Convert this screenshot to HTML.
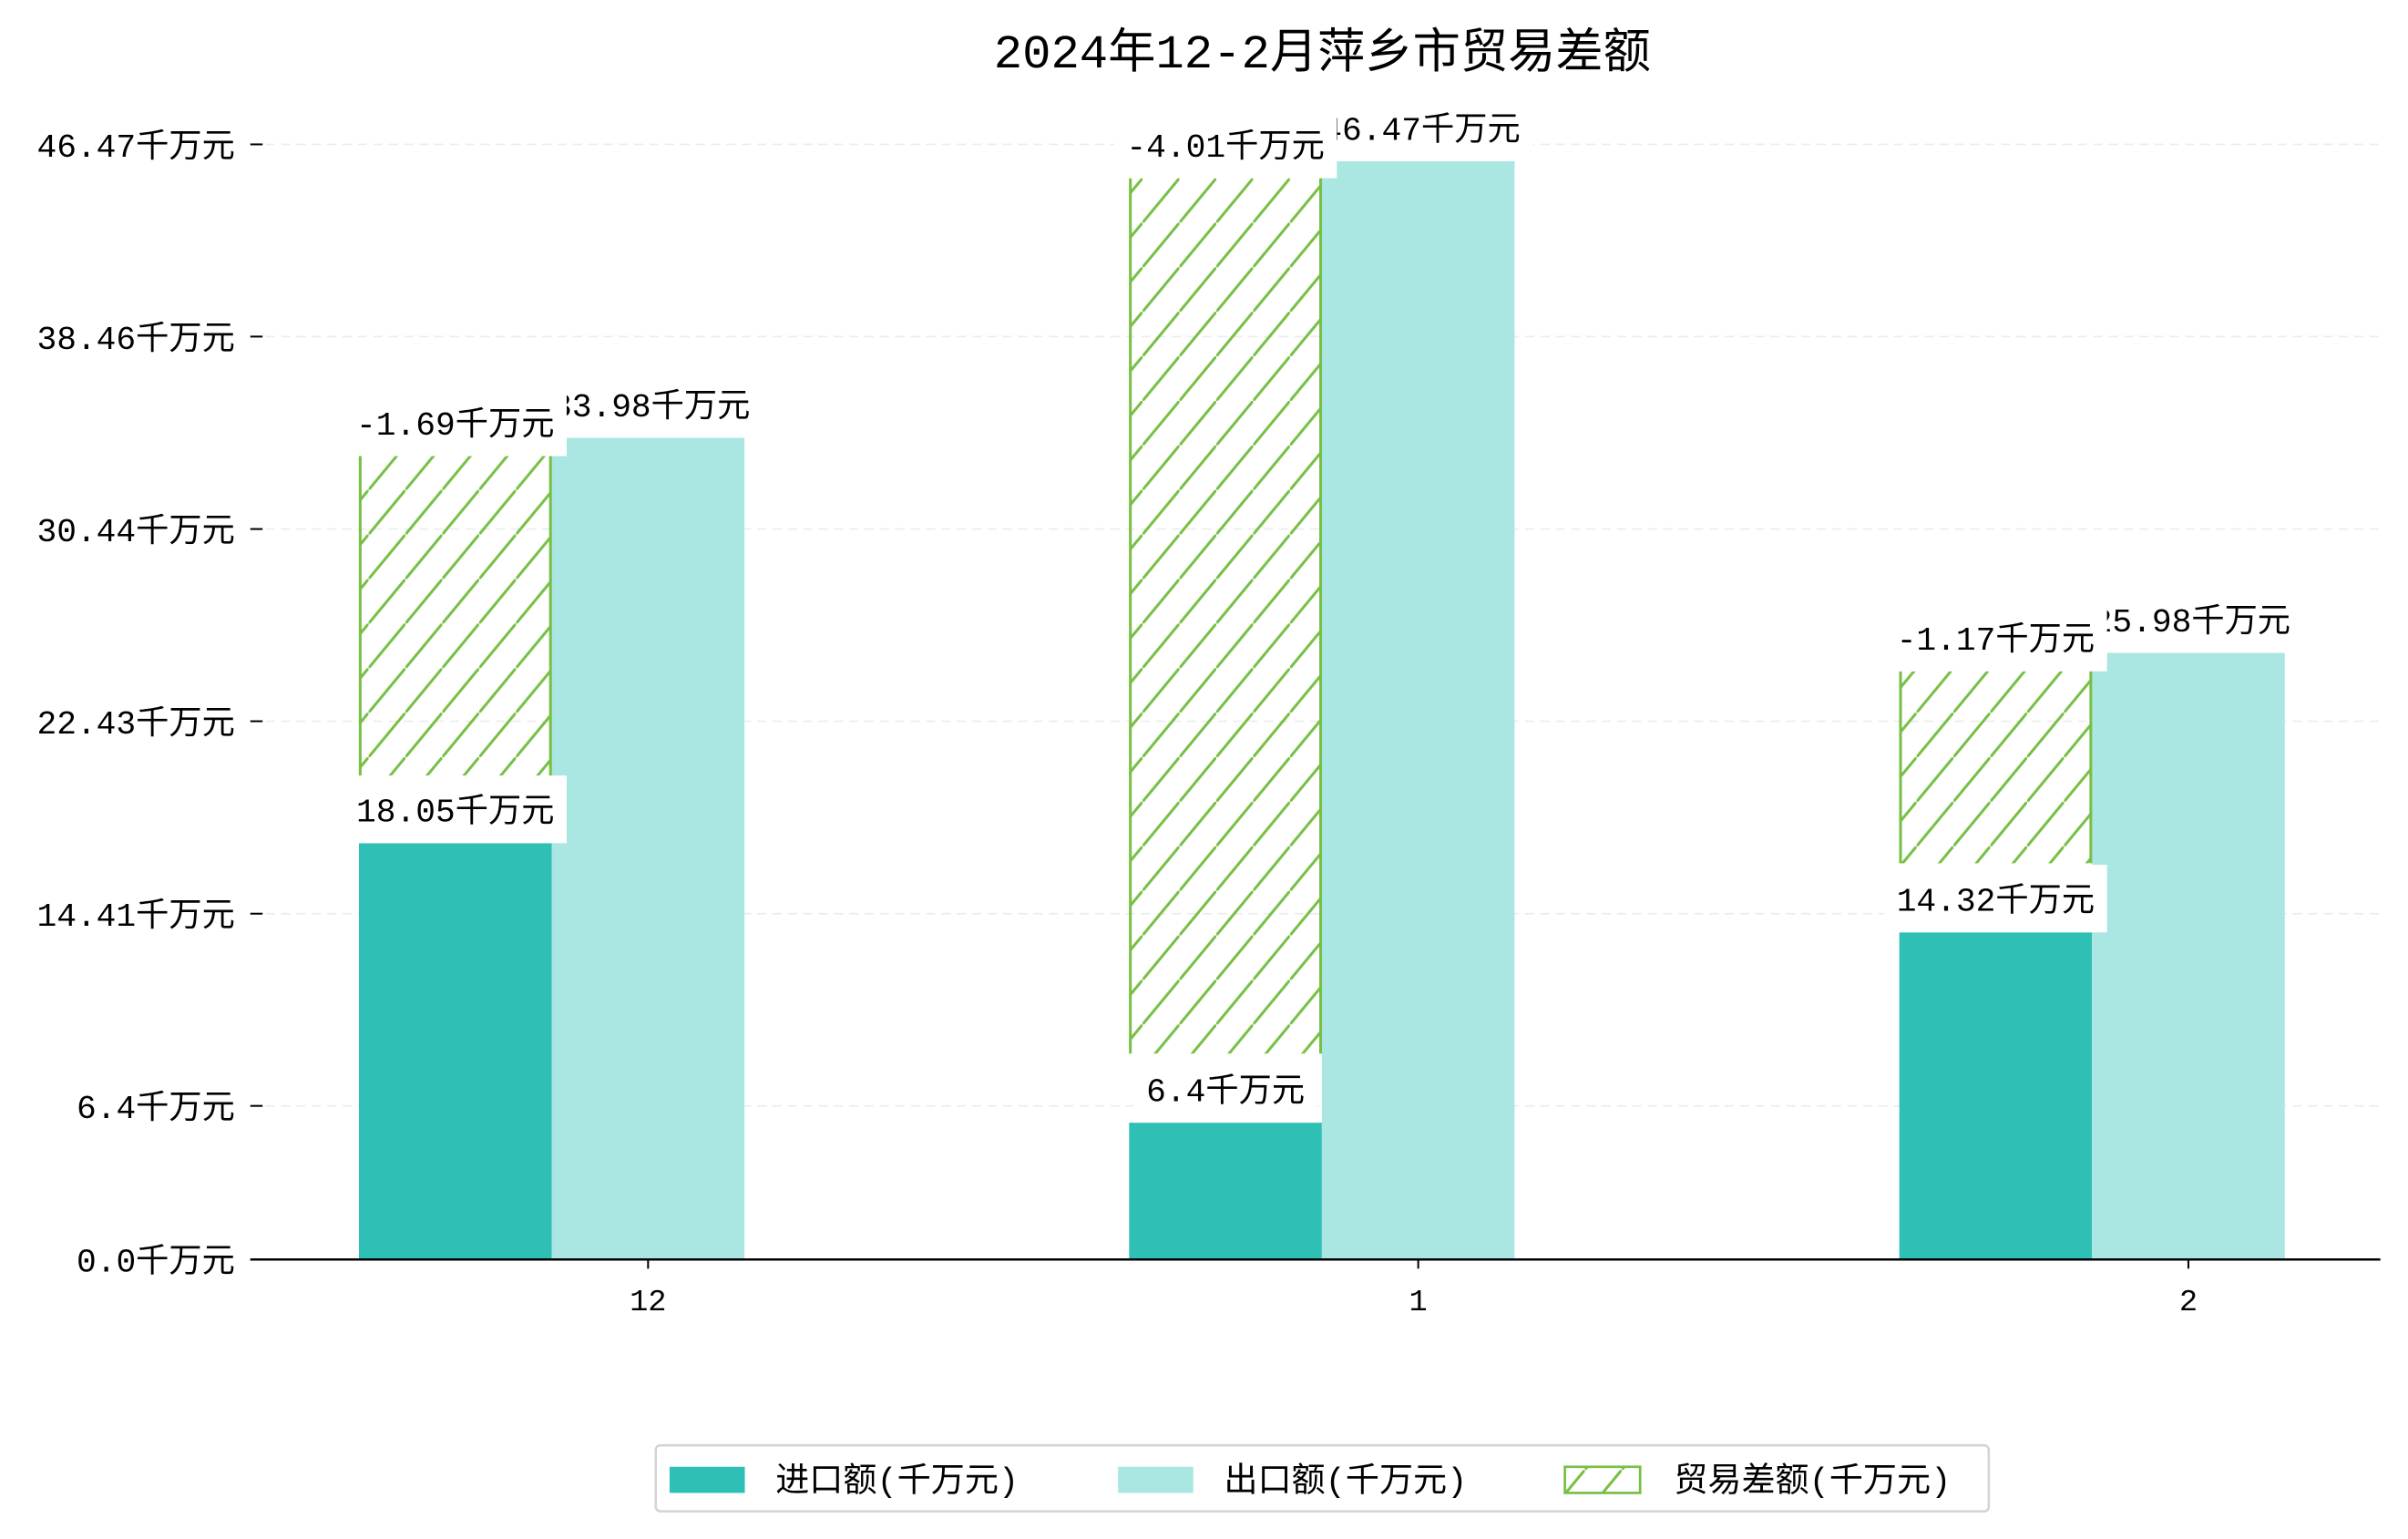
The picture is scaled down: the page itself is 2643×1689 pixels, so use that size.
<!DOCTYPE html>
<html><head><meta charset="utf-8"><style>
html,body{margin:0;padding:0;background:#fff;}
svg{display:block;font-family:"Liberation Mono","Noto Sans CJK SC",monospace;}
</style></head><body>
<svg id="chart" width="2643" height="1689" viewBox="0 0 1568 1002" preserveAspectRatio="none" xmlns="http://www.w3.org/2000/svg">
<defs>
<pattern id="hatch" patternUnits="userSpaceOnUse" width="24" height="29">
<line x1="-6" y1="36.25" x2="30" y2="-7.25" stroke="#77bf45" stroke-width="1.8"/>
</pattern>
</defs>
<rect width="1568" height="1002" fill="#fff"/>
<text x="861" y="44" font-size="31" text-anchor="middle" fill="#000">2024年12-2月萍乡市贸易差额</text>
<g id="grid"></g>
<g id="bars"></g>
<g id="labels"></g>
<g id="axes"></g>
<g>
<rect x="427" y="941" width="868" height="43" rx="3" fill="#fff" stroke="#d4d4d4" stroke-width="1.5"/>
<rect x="436" y="955" width="49" height="17" fill="#2ec0b4"/>
<text x="505" y="971" font-size="22" fill="#000">进口额(千万元)</text>
<rect x="728" y="955" width="49" height="17" fill="#aae7e2"/>
<text x="797" y="971" font-size="22" fill="#000">出口额(千万元)</text>
<rect x="1019" y="955" width="49" height="17" fill="url(#hatch)" stroke="#77bf45" stroke-width="1.6"/>
<text x="1090" y="971" font-size="22" fill="#000">贸易差额(千万元)</text>
</g>
</svg>
<script>
const categories = ["12", "1", "2"];
const importValues = [17.35, 5.70, 13.63];
const exportValues = [34.24, 45.77, 25.28];
const balanceTop = [33.48, 45.06, 24.51];
const balanceBottom = [20.16, 8.58, 16.51];
const importLabels = ["18.05千万元", "6.4千万元", "14.32千万元"];
const exportLabels = ["33.98千万元", "46.47千万元", "25.98千万元"];
const balanceLabels = ["-1.69千万元", "-4.01千万元", "-1.17千万元"];
const yTicks = [0, 6.4, 14.41, 22.43, 30.44, 38.46, 46.47];
const yTickLabels = ["0.0千万元", "6.4千万元", "14.41千万元", "22.43千万元", "30.44千万元", "38.46千万元", "46.47千万元"];

const NS = "http://www.w3.org/2000/svg";
const y0 = 820, yTopPx = 94, yMax = 46.47;
function yScale(v){ return y0 - v * (y0 - yTopPx) / yMax; }
const groupStart = 422, groupStep = 501.5, barW = 125.5;
function xCenter(i){ return groupStart + i * groupStep; }
function mk(tag, attrs, parent){
  const e = document.createElementNS(NS, tag);
  for (const k in attrs) e.setAttribute(k, attrs[k]);
  parent.appendChild(e); return e;
}
const grid = document.getElementById('grid'), bars = document.getElementById('bars'),
      labels = document.getElementById('labels'), axes = document.getElementById('axes');

yTicks.forEach((t, i) => {
  const y = yScale(t);
  if (t > 0) {
    const g = mk('line', {x1:163, x2:1550, y1:y, y2:y, stroke:'#ececec', 'stroke-width':1, 'stroke-dasharray':'6,4'}, grid);
    
    
  }
  const tk = mk('line', {x1:163, x2:171, y1:y, y2:y, stroke:'#000', 'stroke-width':1.2}, axes);
  
  
  const tl = mk('text', {x:153, y:y+8, 'font-size':21.5, 'text-anchor':'end', fill:'#000'}, axes);
  tl.textContent = yTickLabels[i];
  
  
});
const xa = mk('line', {x1:163, x2:1550, y1:y0, y2:y0, stroke:'#000', 'stroke-width':1.5}, axes);



function label(text, cx, cy, name){
  const g = mk('g', {}, labels);
  
  
  const r = mk('rect', {fill:'#fff'}, g);
  const t = mk('text', {x:cx, y:cy+8, 'font-size':21.5, 'text-anchor':'middle', fill:'#000'}, g);
  t.textContent = text;
  const bb = t.getBBox();
  r.setAttribute('x', bb.x - 8); r.setAttribute('y', cy - 22);
  r.setAttribute('width', bb.width + 16); r.setAttribute('height', 44);
}

categories.forEach((c, i) => {
  const cx = xCenter(i);
  const exL = cx - barW/2, imL = exL - barW;
  const im = mk('rect', {x:imL, y:yScale(importValues[i]), width:barW, height:y0 - yScale(importValues[i]), fill:'#2ec0b4'}, bars);
  
  
  const ex = mk('rect', {x:exL, y:yScale(exportValues[i]), width:barW, height:y0 - yScale(exportValues[i]), fill:'#aae7e2'}, bars);
  
  
  const bt = yScale(balanceTop[i]), bbm = yScale(balanceBottom[i]);
  const ba = mk('rect', {x:imL, y:bt, width:barW, height:bbm - bt, fill:'url(#hatch)'}, bars);
  
  
  mk('line', {x1:imL+0.8, x2:imL+0.8, y1:bt, y2:bbm, stroke:'#77bf45', 'stroke-width':1.8}, bars);
  mk('line', {x1:exL-0.8, x2:exL-0.8, y1:bt, y2:bbm, stroke:'#77bf45', 'stroke-width':1.8}, bars);
  const xt = mk('line', {x1:cx, x2:cx, y1:y0, y2:y0+6, stroke:'#000', 'stroke-width':1.2}, axes);
  
  
  const xl = mk('text', {x:cx, y:853, 'font-size':20, 'text-anchor':'middle', fill:'#000'}, axes);
  xl.textContent = c;
  
  
});
categories.forEach((c, i) => {
  const cx = xCenter(i);
  const imC = cx - barW;
  label(exportLabels[i], cx + 2, yScale(exportValues[i]) - 22, 'export-label-' + c);
  label(balanceLabels[i], imC, yScale(balanceTop[i]) - 22, 'balance-label-' + c);
  label(importLabels[i], imC, yScale(importValues[i]) - 22, 'import-label-' + c);
});
</script>
</body></html>
